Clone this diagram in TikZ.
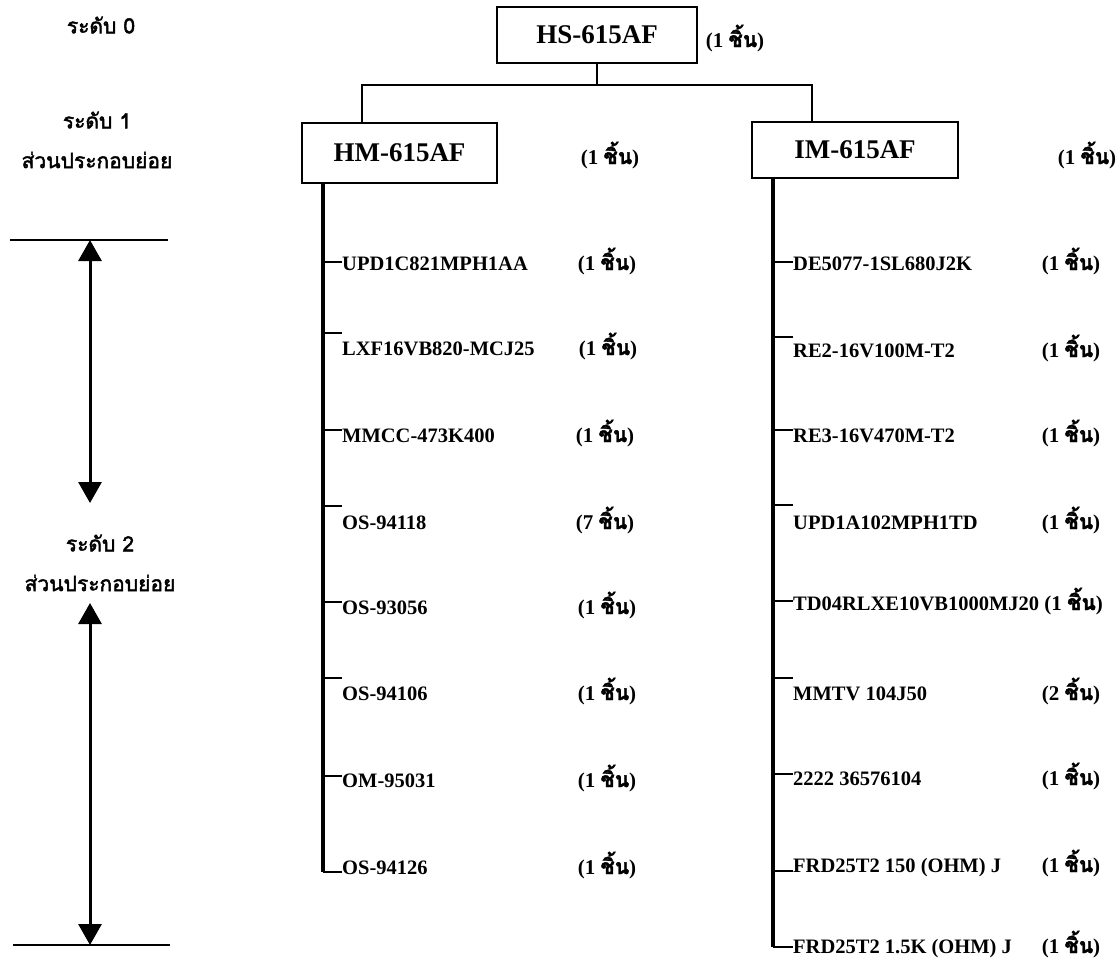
\documentclass[tikz,border=0pt]{standalone}
\usepackage{fontspec}
\setmainfont{Liberation Serif}
\newfontfamily\thai[Script=Thai,FakeBold=2]{Loma}
\usetikzlibrary{arrows.meta}
\tikzset{
  box/.style={draw, line width=2.2pt, inner sep=0pt, font=\fontsize{27}{30}\selectfont\bfseries},
  item/.style={anchor=base west, yshift=-7pt, inner sep=0pt, font=\fontsize{20.5}{24}\selectfont\bfseries},
  qty/.style={anchor=base, yshift=-7pt, inner sep=0pt, font=\fontsize{21}{24}\selectfont\bfseries},
  lvl/.style={inner sep=0pt, font=\fontsize{21}{24}\selectfont\thai},
  link/.style={line width=2.2pt},
  trunk/.style={line width=3.2pt},
  tick/.style={line width=2.2pt},
  dim/.style={line width=3pt, {Triangle[width=23pt,length=21pt]}-{Triangle[width=23pt,length=21pt]}},
  rule/.style={line width=2.4pt}
}
\newcommand{\pcs}[1]{(#1 {\thai ชิ้น})}
\begin{document}
\begin{tikzpicture}[x=1pt,y=-1pt]
\useasboundingbox (0,0) rectangle (1120,962);
% level labels
\node[lvl] (l0) at (101,25) {ระดับ 0};
\node[lvl] (l1) at (97,120) {ระดับ 1};
\node[lvl] (l1b) at (97,160) {ส่วนประกอบย่อย};
\node[lvl] (l2) at (100,543) {ระดับ 2};
\node[lvl] (l2b) at (100,583) {ส่วนประกอบย่อย};
% rules and arrows
\coordinate (rt1) at (10,240); \coordinate (rt2) at (168,240);
\coordinate (rb1) at (13,945); \coordinate (rb2) at (170,945);
\draw[rule] (rt1) -- (rt2);
\draw[rule] (rb1) -- (rb2);
\coordinate (a1) at (90,240); \coordinate (a2) at (90,503);
\coordinate (a3) at (90,603); \coordinate (a4) at (90,945);
\draw[dim] (a1) -- (a2);
\draw[dim] (a3) -- (a4);
% boxes
\node[box, minimum width=200pt, minimum height=56pt] (hs) at (597,35) {HS-615AF};
\node[qty] (hsq) at (735,40) {\pcs{1}};
\node[box, minimum width=195pt, minimum height=60pt] (hm) at (399.5,153) {HM-615AF};
\node[qty] (hmq) at (610,157) {\pcs{1}};
\node[box, minimum width=206pt, minimum height=56pt] (im) at (855,150) {IM-615AF};
\node[qty] (imq) at (1087,157) {\pcs{1}};
% tree links
\coordinate (bus) at (597,85);
\coordinate (busl) at (362,85);
\coordinate (busr) at (812,85);
\draw[link] (hs.south) -- (bus);
\draw[link] (hm.north -| busl) -- (busl) -- (busr) -- (im.north -| busr);
% left items
\node[item] (i1) at (342,263) {UPD1C821MPH1AA};
\node[item] (i2) at (342,348) {LXF16VB820-MCJ25};
\node[item] (i3) at (342,435) {MMCC-473K400};
\node[item] (i4) at (342,522) {OS-94118};
\node[item] (i5) at (342,607) {OS-93056};
\node[item] (i6) at (342,693) {OS-94106};
\node[item] (i7) at (342,780) {OM-95031};
\node[item] (i8) at (342,867) {OS-94126};
\node[qty] (q1) at (607,263) {\pcs{1}};
\node[qty] (q2) at (608,348) {\pcs{1}};
\node[qty] (q3) at (605,435) {\pcs{1}};
\node[qty] (q4) at (605,522) {\pcs{7}};
\node[qty] (q5) at (607,607) {\pcs{1}};
\node[qty] (q6) at (607,693) {\pcs{1}};
\node[qty] (q7) at (607,780) {\pcs{1}};
\node[qty] (q8) at (607,867) {\pcs{1}};
\coordinate (lt) at (323,183);
\coordinate (le) at (323,872);
\draw[trunk] (hm.south -| lt) -- (le);
\draw[tick] (323,262) -- (i1.west |- 0,262);
\draw[tick] (323,333) -- (i2.west |- 0,333);
\draw[tick] (323,430) -- (i3.west |- 0,430);
\draw[tick] (323,506) -- (i4.west |- 0,506);
\draw[tick] (323,602) -- (i5.west |- 0,602);
\draw[tick] (323,678) -- (i6.west |- 0,678);
\draw[tick] (323,776) -- (i7.west |- 0,776);
\draw[tick] (le) -- (i8.west |- le);
% right items
\node[item] (r1) at (793,263) {DE5077-1SL680J2K};
\node[item] (r2) at (793,350) {RE2-16V100M-T2};
\node[item] (r3) at (793,435) {RE3-16V470M-T2};
\node[item] (r4) at (793,522) {UPD1A102MPH1TD};
\node[item] (r5) at (793,603) {TD04RLXE10VB1000MJ20};
\node[item] (r6) at (793,693) {MMTV 104J50};
\node[item] (r7) at (793,778) {2222 36576104};
\node[item] (r8) at (793,865) {FRD25T2 150 (OHM) J};
\node[item] (r9) at (793,946) {FRD25T2 1.5K (OHM) J};
\node[qty] (s1) at (1071,263) {\pcs{1}};
\node[qty] (s2) at (1071,350) {\pcs{1}};
\node[qty] (s3) at (1071,435) {\pcs{1}};
\node[qty] (s4) at (1071,522) {\pcs{1}};
\node[qty, anchor=base east] (s5) at (1103,603) {\pcs{1}};
\node[qty] (s6) at (1071,693) {\pcs{2}};
\node[qty] (s7) at (1071,778) {\pcs{1}};
\node[qty] (s8) at (1071,865) {\pcs{1}};
\node[qty] (s9) at (1071,946) {\pcs{1}};
\coordinate (rt) at (773,178);
\coordinate (re) at (773,947);
\draw[trunk] (im.south -| rt) -- (re);
\draw[tick] (773,262) -- (r1.west |- 0,262);
\draw[tick] (773,337) -- (r2.west |- 0,337);
\draw[tick] (773,430) -- (r3.west |- 0,430);
\draw[tick] (773,505) -- (r4.west |- 0,505);
\draw[tick] (773,601) -- (r5.west |- 0,601);
\draw[tick] (773,678) -- (r6.west |- 0,678);
\draw[tick] (773,774) -- (r7.west |- 0,774);
\draw[tick] (773,871) -- (r8.west |- 0,871);
\draw[tick] (re) -- (r9.west |- re);
\end{tikzpicture}
\end{document}
